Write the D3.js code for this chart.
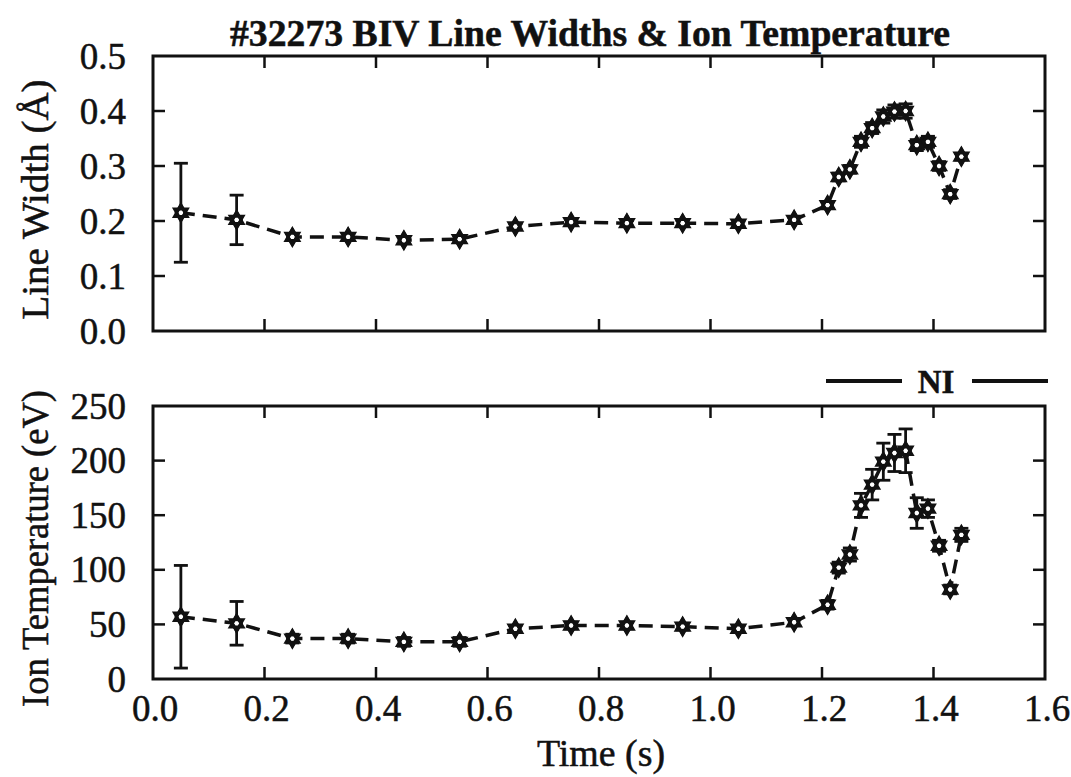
<!DOCTYPE html>
<html lang="en">
<head>
  <title>#32273 BIV Line Widths & Ion Temperature</title>
  <meta http-equiv="content-type" content="text/html; charset=utf-8" />
  <script src="https://cdnjs.cloudflare.com/ajax/libs/d3/7.8.5/d3.min.js"></script>
  <style>
    body {
      margin: 0;
      background: #fff;
    }
    text {
      font-family: "Liberation Serif", "Times New Roman", serif;
      fill: #111;
      stroke: #111;
      stroke-width: 0.5px;
    }
  </style>
</head>
<body>
  <div id="graphic"></div>

  <script>
    // time of each measurement (s)
    var times = [0.05, 0.15, 0.25, 0.35, 0.45, 0.55, 0.65, 0.75, 0.85, 0.95, 1.05,
      1.15, 1.21, 1.23, 1.25, 1.27, 1.29, 1.31, 1.33, 1.35, 1.37, 1.39, 1.41, 1.43, 1.45];

    // BIV line width (Angstrom) and its error
    var lineWidth = [0.215, 0.202, 0.171, 0.171, 0.165, 0.167, 0.190, 0.198, 0.196, 0.196, 0.195,
      0.202, 0.229, 0.280, 0.294, 0.344, 0.369, 0.390, 0.399, 0.400, 0.338, 0.344, 0.300, 0.249, 0.317];
    var lineWidthErr = [0.09, 0.045, 0.006, 0.006, 0.006, 0.006, 0.005, 0.005, 0.005, 0.005, 0.005,
      0.005, 0.006, 0.007, 0.007, 0.010, 0.010, 0.012, 0.012, 0.013, 0.010, 0.010, 0.008, 0.008, 0.006];

    // ion temperature (eV) and its error
    var ionTemp = [57, 51, 37, 37, 34, 34, 46, 49, 49, 48, 46,
      52, 68, 102, 114, 159, 178, 199, 207, 209, 152, 156, 122, 82, 132];
    var ionTempErr = [47, 20, 4, 4, 4, 4, 3, 3, 3, 3, 3,
      3, 4, 5, 6, 11, 14, 17, 17, 20, 14, 8, 5, 4, 6];

    var xTicks = [0.0, 0.2, 0.4, 0.6, 0.8, 1.0, 1.2, 1.4, 1.6];
    var widthTicks = [0.0, 0.1, 0.2, 0.3, 0.4, 0.5];
    var tempTicks = [0, 50, 100, 150, 200, 250];

    var title = "#32273 BIV Line Widths & Ion Temperature";

    var width = 1071, height = 777;

    var svg = d3.select('#graphic')
      .append('svg')
      .attr('width', width)
      .attr('height', height);

    var x = d3.scaleLinear().domain([0, 1.6]).range([153, 1045]);

    var panels = [
      { values: lineWidth, errs: lineWidthErr, ticks: widthTicks, fmt: d3.format('.1f'),
        y: d3.scaleLinear().domain([0, 0.5]).range([331, 56]),
        label: 'Line Width (\u00C5)', labelLen: 240, xLabels: false },
      { values: ionTemp, errs: ionTempErr, ticks: tempTicks, fmt: d3.format('d'),
        y: d3.scaleLinear().domain([0, 250]).range([679, 406]),
        label: 'Ion Temperature (eV)', labelLen: 317, xLabels: true }
    ];

    var tickLen = 12;

    panels.forEach(function(p) {
      var y = p.y;
      var g = svg.append('g');
      var y0 = y.range()[0], y1 = y.range()[1];
      var x0 = x.range()[0], x1 = x.range()[1];

      // ticks on all four sides, pointing in
      g.selectAll('line.xt-bottom')
        .data(xTicks.slice(1, -1))
        .enter().append('line')
        .attr('x1', function(d) { return x(d); })
        .attr('x2', function(d) { return x(d); })
        .attr('y1', y0).attr('y2', y0 - tickLen)
        .attr('stroke', '#111').attr('stroke-width', 2.5);

      g.selectAll('line.xt-top')
        .data(xTicks.slice(1, -1))
        .enter().append('line')
        .attr('x1', function(d) { return x(d); })
        .attr('x2', function(d) { return x(d); })
        .attr('y1', y1).attr('y2', y1 + tickLen)
        .attr('stroke', '#111').attr('stroke-width', 2.5);

      g.selectAll('line.yt-left')
        .data(p.ticks.slice(1, -1))
        .enter().append('line')
        .attr('x1', x0).attr('x2', x0 + tickLen)
        .attr('y1', function(d) { return y(d); })
        .attr('y2', function(d) { return y(d); })
        .attr('stroke', '#111').attr('stroke-width', 2.5);

      g.selectAll('line.yt-right')
        .data(p.ticks.slice(1, -1))
        .enter().append('line')
        .attr('x1', x1).attr('x2', x1 - tickLen)
        .attr('y1', function(d) { return y(d); })
        .attr('y2', function(d) { return y(d); })
        .attr('stroke', '#111').attr('stroke-width', 2.5);

      g.append('rect')
        .attr('x', x0).attr('y', y1)
        .attr('width', x1 - x0).attr('height', y0 - y1)
        .attr('fill', 'none')
        .attr('stroke', '#111')
        .attr('stroke-width', 3);

      // y tick labels
      g.selectAll('text.ylab')
        .data(p.ticks)
        .enter().append('text')
        .attr('x', 126)
        .attr('y', function(d) { return y(d); })
        .attr('dy', '0.34em')
        .attr('text-anchor', 'end')
        .style('font-size', '37px')
        .text(function(d) { return p.fmt(d); });

      if (p.xLabels) {
        g.selectAll('text.xlab')
          .data(xTicks)
          .enter().append('text')
          .attr('x', function(d) { return x(d) + 2; })
          .attr('y', 721)
          .attr('text-anchor', 'middle')
          .style('font-size', '37px')
          .text(function(d) { return d3.format('.1f')(d); });
      }

      // axis title
      g.append('text')
        .attr('transform', 'translate(48,' + ((y0 + y1) / 2 + 6) + ') rotate(-90)')
        .attr('text-anchor', 'middle')
        .attr('textLength', p.labelLen)
        .attr('lengthAdjust', 'spacingAndGlyphs')
        .style('font-size', '37px')
        .text(p.label);

      var pts = times.map(function(t, i) {
        return { t: t, v: p.values[i], e: p.errs[i] };
      });

      // dashed connecting line
      g.append('path')
        .datum(pts)
        .attr('d', d3.line()
          .x(function(d) { return x(d.t); })
          .y(function(d) { return y(d.v); }))
        .attr('fill', 'none')
        .attr('stroke', '#111')
        .attr('stroke-width', 3.5)
        .attr('stroke-dasharray', '14,8');

      // error bars
      var eb = g.selectAll('g.err')
        .data(pts)
        .enter().append('g');

      eb.append('line')
        .attr('x1', function(d) { return x(d.t); })
        .attr('x2', function(d) { return x(d.t); })
        .attr('y1', function(d) { return y(d.v - d.e); })
        .attr('y2', function(d) { return y(d.v + d.e); })
        .attr('stroke', '#111').attr('stroke-width', 2.8);

      [-1, 1].forEach(function(s) {
        eb.append('line')
          .attr('x1', function(d) { return x(d.t) - 7; })
          .attr('x2', function(d) { return x(d.t) + 7; })
          .attr('y1', function(d) { return y(d.v + s * d.e); })
          .attr('y2', function(d) { return y(d.v + s * d.e); })
          .attr('stroke', '#111').attr('stroke-width', 2.8);
      });

      // markers: diamond overlaid with a hexagram
      var mk = g.selectAll('g.mk')
        .data(pts)
        .enter().append('g')
        .attr('transform', function(d) { return 'translate(' + x(d.t) + ',' + y(d.v) + ')'; });

      mk.append('path')
        .attr('d', d3.symbol().type(d3.symbolTriangle).size(70))
        .attr('fill', '#fff').attr('stroke', '#111').attr('stroke-width', 3);
      mk.append('path')
        .attr('d', d3.symbol().type(d3.symbolTriangle).size(70))
        .attr('transform', 'rotate(180)')
        .attr('fill', 'none').attr('stroke', '#111').attr('stroke-width', 3);
      mk.append('path')
        .attr('d', d3.symbol().type(d3.symbolDiamond).size(75))
        .attr('fill', 'none').attr('stroke', '#111').attr('stroke-width', 3);
      mk.append('circle')
        .attr('r', 1.8)
        .attr('fill', '#fff');
    });

    // title
    svg.append('text')
      .attr('x', 590)
      .attr('y', 46)
      .attr('text-anchor', 'middle')
      .attr('textLength', 720)
      .attr('lengthAdjust', 'spacingAndGlyphs')
      .style('font-size', '37px')
      .style('font-weight', 700)
      .text(title);

    svg.append('text')
      .attr('x', 601)
      .attr('y', 766)
      .attr('text-anchor', 'middle')
      .attr('textLength', 128)
      .attr('lengthAdjust', 'spacingAndGlyphs')
      .style('font-size', '37px')
      .text('Time (s)');

    // label from the facing page printed through the scan
    svg.append('line')
      .attr('x1', 826).attr('x2', 902)
      .attr('y1', 381).attr('y2', 381)
      .attr('stroke', '#111').attr('stroke-width', 4);
    svg.append('line')
      .attr('x1', 972).attr('x2', 1048)
      .attr('y1', 381).attr('y2', 381)
      .attr('stroke', '#111').attr('stroke-width', 4);
    svg.append('text')
      .attr('x', 936)
      .attr('y', 393)
      .attr('text-anchor', 'middle')
      .style('font-size', '33px')
      .style('font-weight', 700)
      .text('NI');
  </script>
</body>
</html>
